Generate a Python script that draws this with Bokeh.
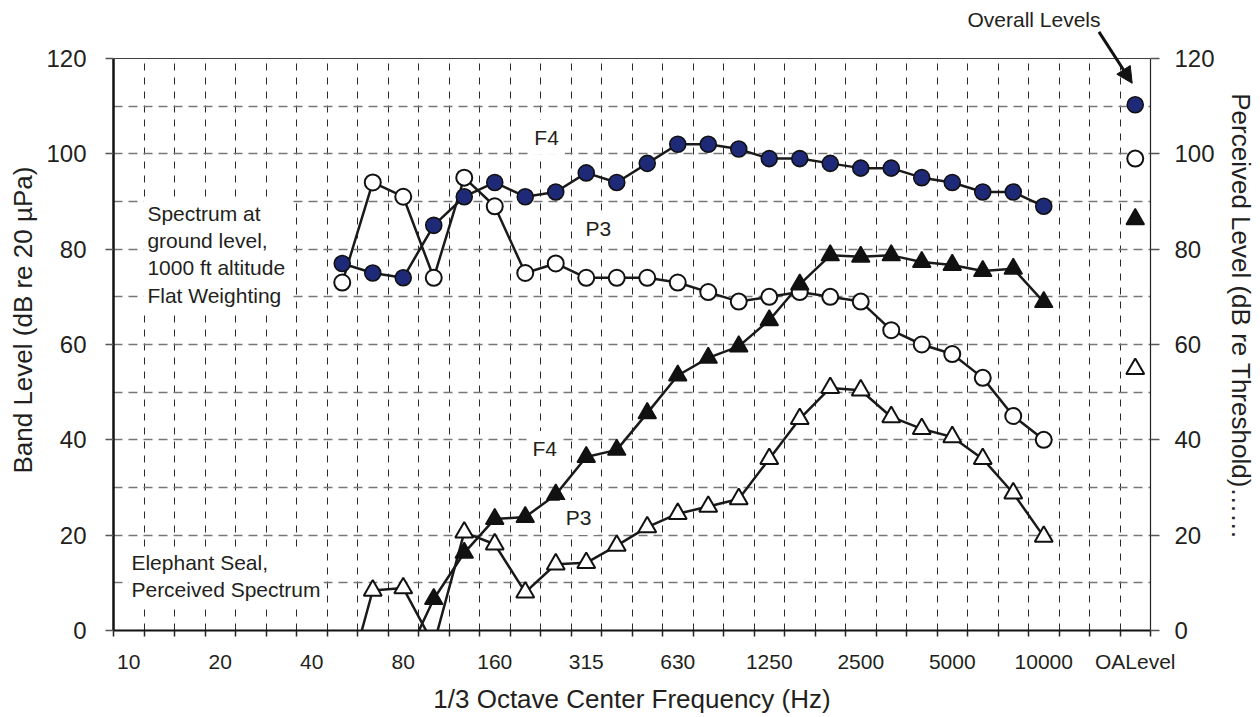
import math
from bokeh.plotting import figure
from bokeh.models import (Range1d, LinearAxis, FixedTicker, Label, Arrow, NormalHead,
                          BoxAnnotation, Span)
from bokeh.embed import file_html
from bokeh.resources import INLINE

N = None
# 1/3 octave band categories (two empty slots before the overall level)
bands = ["10", "12.5", "16", "20", "25", "31.5", "40", "50", "63", "80", "100", "125",
         "160", "200", "250", "315", "400", "500", "630", "800", "1000", "1250", "1600",
         "2000", "2500", "3150", "4000", "5000", "6300", "8000", "10000", "", "", "OALevel"]
label_step = 3

# Band level spectra (dB re 20 uPa)
f4_band = [N] * 7 + [77, 75, 74, 85, 91, 94, 91, 92, 96, 94, 98, 102, 102, 101, 99, 99,
                     98, 97, 97, 95, 94, 92, 92, 89] + [N, N, 110.3]
p3_band = [N] * 7 + [73, 94, 91, 74, 95, 89, 75, 77, 74, 74, 74, 73, 71, 69, 70, 71,
                     70, 69, 63, 60, 58, 53, 45, 40] + [N, N, 99]
# Perceived spectra (dB re threshold)
f4_perc = [N] * 9 + [-7, 6.6, 16.3, 23.4, 23.8, 28.5, 36.4, 37.9, 45.6, 53.5, 57.2, 59.6,
                     65.1, 72.6, 78.7, 78.4, 78.7, 77.3, 76.7, 75.4, 75.9, 68.9] + [N, N, 86.3]
p3_perc = [N] * 7 + [-15, 8.4, 8.9, -3, 20.6, 18.1, 8.0, 13.9, 14.2, 17.8, 21.7, 24.5,
                     26.0, 27.6, 36.0, 44.4, 50.9, 50.4, 44.8, 42.3, 40.6, 36.0, 28.8,
                     19.7] + [N, N, 54.9]

y_ticks = [0, 20, 40, 60, 80, 100, 120]
y_grid = [10, 20, 30, 40, 50, 60, 70, 80, 90, 100, 110]
y_top = 120

FONT = "Liberation Sans"
TXT = "#231F20"
n = len(bands)

# the frame extends a little above 120 so the "Overall Levels" note can be drawn
p = figure(width=1258, height=716, output_backend="svg", toolbar_location=None,
           x_range=Range1d(-0.5, n - 0.5), y_range=Range1d(0, 131.75),
           min_border_left=113, min_border_right=107, min_border_top=2,
           min_border_bottom=86)
p.background_fill_color = "white"
p.border_fill_color = "white"
p.outline_line_color = None

# grids
boundaries = [i + 0.5 for i in range(n - 1)]
p.xgrid[0].ticker = FixedTicker(ticks=boundaries)
p.xgrid[0].grid_line_color = "#2a2a2a"
p.xgrid[0].grid_line_dash = "7 7"
p.xgrid[0].grid_line_width = 1
p.ygrid[0].ticker = FixedTicker(ticks=y_grid)
p.ygrid[0].grid_line_color = "#777777"
p.ygrid[0].grid_line_dash = "9 6"
p.ygrid[0].grid_line_width = 1.5

# blank out the grid above the top of the value scale
p.add_layout(BoxAnnotation(bottom=y_top, fill_color="white", fill_alpha=1.0,
                           line_color=None, level="underlay"))
p.add_layout(Span(location=y_top, dimension="width", line_color="#404040",
                  line_width=1.2))

# x axis
xa = p.xaxis[0]
xa.ticker = FixedTicker(ticks=list(range(0, n, label_step)),
                        minor_ticks=[i - 0.5 for i in range(n + 1)])
xa.major_label_overrides = {i: bands[i] for i in range(0, n, label_step)}
xa.major_tick_out = 0
xa.major_tick_in = 0
xa.minor_tick_out = 6
xa.minor_tick_in = 0
xa.minor_tick_line_color = "#222222"
xa.minor_tick_line_width = 1.5
xa.axis_line_color = "#111111"
xa.axis_line_width = 2
xa.major_label_standoff = 13
xa.major_label_text_font = FONT
xa.major_label_text_font_size = "21px"
xa.major_label_text_color = TXT
xa.axis_label = "1/3 Octave Center Frequency (Hz)"
xa.axis_label_text_font = FONT
xa.axis_label_text_font_size = "26px"
xa.axis_label_text_font_style = "normal"
xa.axis_label_text_color = TXT
xa.axis_label_standoff = 8

# left y axis
ya = p.yaxis[0]
ya.ticker = FixedTicker(ticks=y_ticks)
ya.bounds = (0, y_top)
ya.major_tick_out = 8
ya.major_tick_in = 0
ya.minor_tick_out = 0
ya.minor_tick_in = 0
ya.major_tick_line_color = "#555555"
ya.major_tick_line_width = 1.5
ya.axis_line_color = "#111111"
ya.axis_line_width = 2.5
ya.major_label_standoff = 19
ya.major_label_text_font = FONT
ya.major_label_text_font_size = "24px"
ya.major_label_text_color = TXT
ya.axis_label = "Band Level  (dB re 20 µPa)"
ya.axis_label_text_font = FONT
ya.axis_label_text_font_size = "26px"
ya.axis_label_text_font_style = "normal"
ya.axis_label_text_color = TXT
ya.axis_label_standoff = 5

# right y axis
ra = LinearAxis(ticker=FixedTicker(ticks=y_ticks), bounds=(0, y_top))
ra.major_tick_out = 9
ra.major_tick_in = 0
ra.minor_tick_out = 0
ra.minor_tick_in = 0
ra.major_tick_line_color = "#555555"
ra.major_tick_line_width = 1.5
ra.axis_line_color = "#222222"
ra.axis_line_width = 1.2
ra.major_label_standoff = 15
ra.major_label_text_font = FONT
ra.major_label_text_font_size = "24px"
ra.major_label_text_color = TXT
ra.axis_label = "Perceived Level (dB re Threshold)……"
ra.axis_label_text_font = FONT
ra.axis_label_text_font_size = "26px"
ra.axis_label_text_font_style = "normal"
ra.axis_label_text_color = TXT
ra.axis_label_standoff = 8
p.add_layout(ra, "right")


def to_float(v):
    return float("nan") if v is None else float(v)


series = [
    (f4_band, "circle", 16, "#1e2a78", 1.6),
    (p3_band, "circle", 16, "white", 2.0),
    (f4_perc, "triangle", 18, "#111111", 1.6),
    (p3_perc, "triangle", 18, "white", 2.0),
]

# connecting lines over the band range (OALevel point is not connected)
last_band = bands.index("10000")
for vals, _, _, _, _ in series:
    xs = list(range(last_band + 1))
    ys = [to_float(v) for v in vals[: last_band + 1]]
    p.line(xs, ys, line_color="#1a1a1a", line_width=2.5)

for vals, mk, sz, fc, lw in series:
    xs = [i for i, v in enumerate(vals) if v is not None]
    ys = [v for v in vals if v is not None]
    p.scatter(xs, ys, marker=mk, size=sz, fill_color=fc, line_color="#111111",
              line_width=lw)

# text annotations
series_labels = [("F4", 13.7, 103.5), ("P3", 15.4, 84.4),
                 ("F4", 13.64, 38.2), ("P3", 14.75, 23.7)]
for t, x, y in series_labels:
    p.add_layout(Label(x=x, y=y, text=t, text_align="center", text_baseline="middle",
                       text_font=FONT, text_font_size="21px", text_color=TXT,
                       background_fill_color="white", padding=6))

p.add_layout(Label(x=0.48, y=90.7,
                   text="Spectrum at\nground level,\n1000 ft altitude\nFlat Weighting",
                   text_align="left", text_baseline="top", text_font=FONT,
                   text_font_size="21px", text_color=TXT, text_line_height=1.18,
                   background_fill_color="white", padding=4))
p.add_layout(Label(x=-0.01, y=17.4, text="Elephant Seal,\nPerceived Spectrum",
                   text_align="left", text_baseline="top", text_font=FONT,
                   text_font_size="21px", text_color=TXT, text_line_height=1.2,
                   background_fill_color="white", padding=3))

p.add_layout(Label(x=29.68, y=128.2, text="Overall Levels", text_align="center",
                   text_baseline="middle", text_font=FONT, text_font_size="21px",
                   text_color=TXT))
p.add_layout(Arrow(end=NormalHead(size=16, fill_color="#111111", line_color="#111111"),
                   x_start=31.81, y_start=125.6, x_end=32.9, y_end=114.8,
                   line_width=3, line_color="#111111"))

open("out.html", "w").write(file_html(p, INLINE))
